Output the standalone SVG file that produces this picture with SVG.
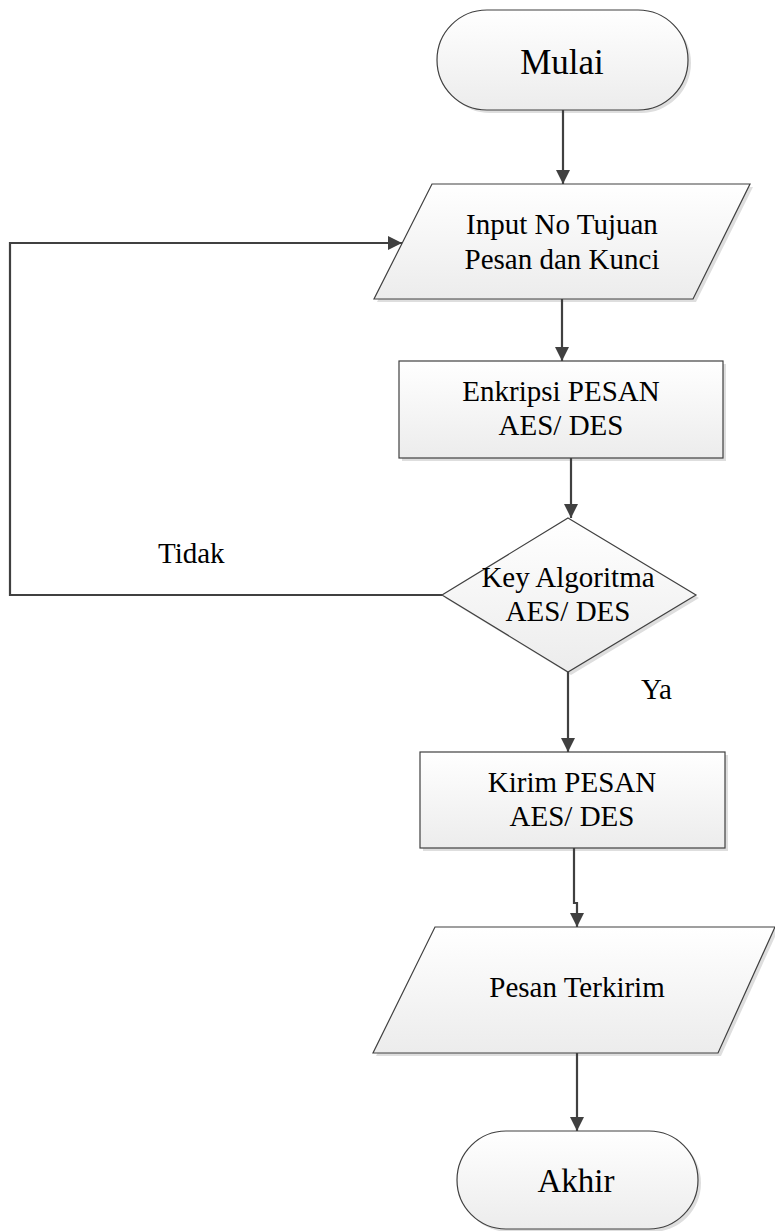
<svg xmlns="http://www.w3.org/2000/svg" width="775" height="1231" viewBox="0 0 775 1231">
<style>
.shape{fill:url(#g);stroke:#404040;stroke-width:1.2}
.shadow{fill:#dedede;stroke:none}
.conn{fill:none;stroke:#404040;stroke-width:2.2}
text{fill:#000;font-size:29px;text-anchor:middle}
.lbl{text-anchor:start}
</style>
<defs>
<linearGradient id="g" x1="0" y1="0" x2="0" y2="1">
<stop offset="0" stop-color="#ffffff"/>
<stop offset="1" stop-color="#ececec"/>
</linearGradient>
<marker id="arr" markerUnits="userSpaceOnUse" markerWidth="15" markerHeight="15" refX="14" refY="7" orient="auto" viewBox="0 0 15 15">
<path d="M0,0 L14,7 L0,14 z" fill="#404040"/>
</marker>
</defs>
<rect width="775" height="1231" fill="#fff"/>
<g font-family="Liberation Serif, Times New Roman, DejaVu Serif, serif">
<g id="mulai">
<rect class="shadow" x="440" y="13" width="251" height="100" rx="50"/>
<rect class="shape" x="437" y="10" width="251" height="100" rx="50"/>
<text x="562" y="74" style="font-size:35px">Mulai</text>
</g>
<g id="input">
<polygon class="shadow" points="435,187 753,187 696,302 377,302"/>
<polygon class="shape" points="432,184 750,184 693,299 374,299"/>
<text x="562" y="234">Input No Tujuan</text>
<text x="562" y="269">Pesan dan Kunci</text>
</g>
<g id="enkripsi">
<rect class="shadow" x="402" y="364" width="324" height="97"/>
<rect class="shape" x="399" y="361" width="324" height="97"/>
<text x="561" y="401">Enkripsi PESAN</text>
<text x="561" y="435">AES/ DES</text>
</g>
<g id="keputusan">
<polygon class="shadow" points="571,521 699,598 571,675 445,598"/>
<polygon class="shape" points="568,518 696,595 568,672 442,595"/>
<text x="568" y="587">Key Algoritma</text>
<text x="568" y="621">AES/ DES</text>
</g>
<g id="kirim">
<rect class="shadow" x="423" y="755" width="305" height="96"/>
<rect class="shape" x="420" y="752" width="305" height="96"/>
<text x="572" y="792">Kirim PESAN</text>
<text x="572" y="826">AES/ DES</text>
</g>
<g id="terkirim">
<polygon class="shadow" points="438,930 778,930 721,1056 376,1056"/>
<polygon class="shape" points="435,927 775,927 718,1053 373,1053"/>
<text x="577" y="997">Pesan Terkirim</text>
</g>
<g id="akhir">
<rect class="shadow" x="460" y="1134" width="241" height="98" rx="49"/>
<rect class="shape" x="457" y="1131" width="241" height="98" rx="49"/>
<text x="576" y="1192" style="font-size:33px">Akhir</text>
</g>
<g id="connectors">
<path class="conn" d="M563,110 V184" marker-end="url(#arr)"/>
<path class="conn" d="M562,299 V361" marker-end="url(#arr)"/>
<path class="conn" d="M571,458 V518" marker-end="url(#arr)"/>
<path class="conn" d="M442,595 H10 V243 H402" marker-end="url(#arr)"/>
<path class="conn" d="M568,672 V752" marker-end="url(#arr)"/>
<path class="conn" d="M574,848 V903 H577 V927" marker-end="url(#arr)"/>
<path class="conn" d="M577,1053 V1131" marker-end="url(#arr)"/>
</g>
<g id="labels">
<text class="lbl" x="158" y="563">Tidak</text>
<text class="lbl" x="641" y="699">Ya</text>
</g>
</g>
</svg>
